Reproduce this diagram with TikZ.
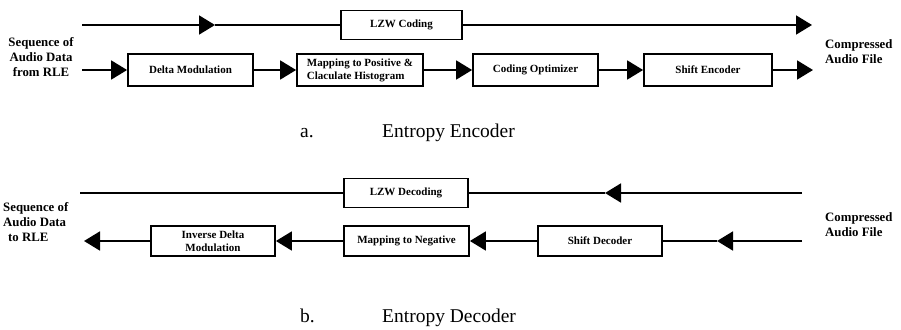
\documentclass[tikz,border=0pt]{standalone}
\usepackage{fontspec}
\setmainfont{Liberation Serif}
\usetikzlibrary{arrows.meta,calc}

\begin{document}
\begin{tikzpicture}[x=1pt,y=-1pt,
    block/.style={draw,line width=1.8pt,inner sep=0pt,align=center,
      minimum height=32pt,font=\fontsize{11}{13}\selectfont\bfseries},
    flow/.style={line width=1.8pt,-{Triangle[length=16pt,width=19pt]}},
    wire/.style={line width=1.8pt},
    side/.style={inner sep=0pt,font=\fontsize{12.8}{15}\selectfont\bfseries},
    caption/.style={inner sep=0pt,anchor=base west,font=\fontsize{19.5}{22}\selectfont}]
  \useasboundingbox (0,0) rectangle (901,329);

  % entropy encoder
  \coordinate (etin) at (82,25);
  \coordinate (etmid) at (215,25);
  \coordinate (etout) at (812,25);
  \coordinate (ein) at (82,70);
  \coordinate (eout) at (813,70);
  \node[block,minimum width=121pt,minimum height=29pt] (lzw) at (401.5,25) {LZW Coding};
  \node[block,minimum width=125pt] (delta) at (190.5,70) {Delta Modulation};
  \node[block,minimum width=126pt,align=left] (mappos) at (360,70) {Mapping to Positive \&\\Claculate Histogram};
  \node[block,minimum width=125pt] (codopt) at (535.5,70) {Coding Optimizer};
  \node[block,minimum width=128pt] (shenc) at (708,70) {Shift Encoder};

  \draw[flow] (etin) -- (etmid);
  \draw[wire] (etmid) -- (lzw);
  \draw[flow] (lzw) -- (etout);
  \draw[flow] (ein) -- (delta);
  \draw[flow] (delta) -- (mappos);
  \draw[flow] (mappos) -- (codopt);
  \draw[flow] (codopt) -- (shenc);
  \draw[flow] (shenc) -- (eout);

  \node[side,align=center] (esrc) at (41,57) {Sequence of\\Audio Data\\from RLE};
  \node[side,align=left,anchor=west] (edst) at (825,52) {Compressed\\Audio File};
  \node[caption] (capa) at (300,137) {a.};
  \node[caption] (capatext) at (382,137) {Entropy Encoder};

  % entropy decoder
  \coordinate (dtin) at (802,193);
  \coordinate (dtmid) at (605,193);
  \coordinate (dtout) at (80,193);
  \coordinate (dbin) at (802,241);
  \coordinate (dbmid) at (717,241);
  \coordinate (dbout) at (84,241);
  \node[block,minimum width=124pt,minimum height=29pt] (lzwd) at (406,193) {LZW Decoding};
  \node[block,minimum width=124pt,minimum height=30pt] (invdel) at (213,241) {Inverse Delta\\Modulation};
  \node[block,minimum width=125pt,minimum height=30pt] (mapneg) at (406.5,241) {Mapping to Negative};
  \node[block,minimum width=124pt,minimum height=30pt] (shdec) at (600,241) {Shift Decoder};

  \draw[flow] (dtin) -- (dtmid);
  \draw[wire] (dtmid) -- (lzwd);
  \draw[wire] (lzwd) -- (dtout);
  \draw[flow] (dbin) -- (dbmid);
  \draw[wire] (dbmid) -- (shdec);
  \draw[flow] (shdec) -- (mapneg);
  \draw[flow] (mapneg) -- (invdel);
  \draw[flow] (invdel) -- (dbout);

  \node[side,align=left,anchor=west] (dsrc) at (3,222) {Sequence of\\Audio Data\\\hspace*{5pt}to RLE};
  \node[side,align=left,anchor=west] (ddst) at (825,225) {Compressed\\Audio File};
  \node[caption] (capb) at (300,322) {b.};
  \node[caption] (capbtext) at (382,322) {Entropy Decoder};
\end{tikzpicture}
\end{document}
